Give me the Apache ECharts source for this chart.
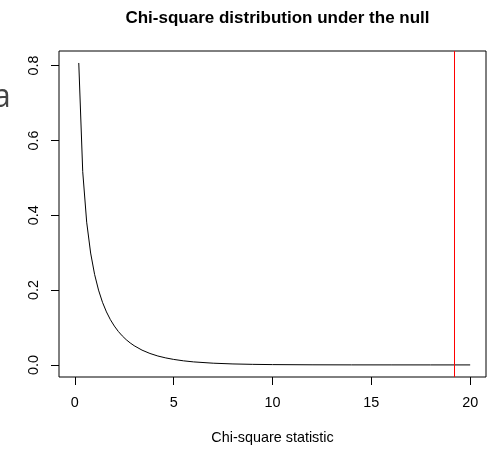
<!DOCTYPE html>
<html>
<head>
<meta charset="utf-8">
<script src="https://cdn.jsdelivr.net/npm/echarts@6/dist/echarts.min.js"></script>
<style>html,body{margin:0;padding:0;background:#fff;}#c{width:491px;height:450px;}</style>
</head>
<body>
<div id="c"></div>
<script>
const titleText = 'Chi-square distribution under the null';
const xName = 'Chi-square statistic';
const xValues = [0.2,0.4,0.6,0.8,1.0,1.2,1.4,1.6,1.8,2.0,2.2,2.4,2.6,2.8,3.0,3.4,3.8,4.2,4.6,5.0,5.5,6.0,7.0,8.0,9.0,10,12,14,16,18,20];
const densityValues = [0.807,0.5165,0.3815,0.2990,0.2420,0.1999,0.1674,0.1417,0.1209,0.1038,0.0895,0.0776,0.0674,0.0588,0.0514,0.0395,0.0306,0.0238,0.0187,0.0147,0.0109,0.0081,0.0046,0.0026,0.0015,0.00085,0.00029,0.0001,0.00003,0.00001,0.000004];
const criticalValue = [19.2];
const xTicks = [0,5,10,15,20];
const yTicks = [0,0.2,0.4,0.6,0.8];

const chart = echarts.init(document.getElementById('c'), null, {renderer:'canvas'});
const font = 'Liberation Sans';
chart.setOption({
  animation:false,
  backgroundColor:'#fff',
  title:{text:titleText,left:272.5,textAlign:'center',top:5,
    textStyle:{fontFamily:font,fontSize:17,fontWeight:'bold',color:'#000'}},
  grid:{left:59,right:5,top:51,bottom:70,show:true,borderColor:'#000',borderWidth:1,backgroundColor:'transparent'},
  xAxis:{type:'value',min:-0.8,max:20.8,
    name:xName,nameLocation:'middle',nameGap:54,
    nameTextStyle:{fontFamily:font,fontSize:14.4,color:'#000'},
    axisLine:{show:false,onZero:false},
    splitLine:{show:false},
    axisTick:{show:true,length:8,lineStyle:{color:'#000'},customValues:xTicks},
    axisLabel:{fontFamily:font,fontSize:14.4,color:'#000',margin:19,customValues:xTicks,formatter:v=>String(v)}},
  yAxis:{type:'value',min:-0.0323,max:0.839,
    axisLine:{show:false,onZero:false},
    splitLine:{show:false},
    axisTick:{show:true,length:8,lineStyle:{color:'#000'},customValues:yTicks},
    axisLabel:{fontFamily:font,fontSize:14.4,color:'#000',rotate:90,margin:18,customValues:yTicks,formatter:v=>v.toFixed(1)}},
  graphic:[{type:'text',left:-7,top:82,style:{text:'a',fontFamily:'Open Sans',fontSize:32,fill:'#444'}}],
  series:[{type:'line',data:xValues.map((x,i)=>[x,densityValues[i]]),showSymbol:false,smooth:false,
    lineStyle:{color:'#000',width:1},
    markLine:{silent:true,symbol:['none','none'],label:{show:false},
      lineStyle:{color:'#ff0000',width:1,type:'solid'},
      data:criticalValue.map(v=>({xAxis:v}))}}]
});
</script>
</body>
</html>
